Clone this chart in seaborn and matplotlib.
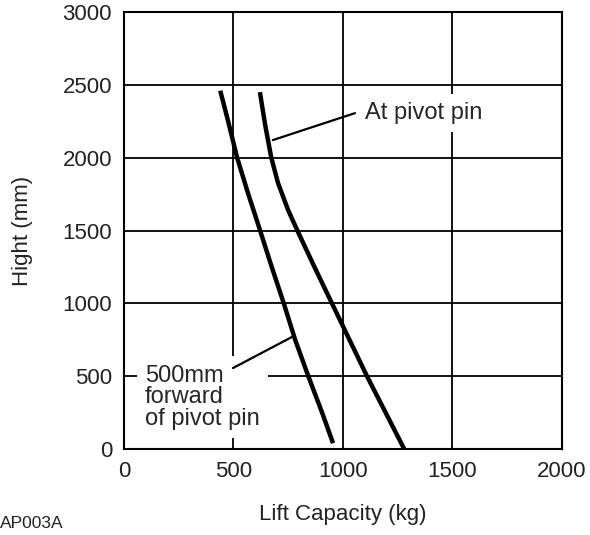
import matplotlib
matplotlib.use('Agg')
import matplotlib.pyplot as plt
import seaborn as sns

# Lift capacity curves
pivot_height = [0, 250, 500, 750, 1000, 1250, 1500, 1640, 1825, 2000, 2225, 2450]
pivot_load = [1280, 1195, 1110, 1030, 950, 870, 792, 750, 704, 673, 645, 621]

forward_height = [40, 250, 500, 750, 1000, 1250, 1500, 1750, 2000, 2250, 2460]
forward_load = [955, 905, 842, 782, 730, 675, 622, 568, 517, 476, 440]

x_ticks = [0, 500, 1000, 1500, 2000]
y_ticks = [0, 500, 1000, 1500, 2000, 2500, 3000]

sns.set_style('white')
plt.rcParams['font.family'] = ['Liberation Sans', 'DejaVu Sans']

fig = plt.figure(figsize=(5.9, 5.35), dpi=100)
ax = fig.add_axes([0.210, 0.1607, 0.7424, 0.8168])

sns.lineplot(x=pivot_load, y=pivot_height, sort=False, estimator=None,
             color='black', lw=3.2, solid_capstyle='butt', ax=ax)
sns.lineplot(x=forward_load, y=forward_height, sort=False, estimator=None,
             color='black', lw=3.2, solid_capstyle='butt', ax=ax)

ax.set_xlim(0, 2000)
ax.set_ylim(0, 3000)
ax.set_xticks(x_ticks)
ax.set_yticks(y_ticks)
ax.grid(True, color='black', lw=1.3)
ax.set_axisbelow(True)
for s in ax.spines.values():
    s.set_color('black')
    s.set_linewidth(1.5)
ax.tick_params(length=0, pad=8.5, labelsize=16, colors='#222222')

ax.set_xlabel('Lift Capacity (kg)', fontsize=16, color='#222222')
ax.set_ylabel('Hight (mm)', fontsize=16, color='#222222')
ax.xaxis.set_label_coords(0.5, -0.125)
ax.yaxis.set_label_coords(-0.208, 0.5)

# labels with white boxes that break the grid
ax.text(1100, 2306, 'At pivot pin', fontsize=17, va='center', ha='left', zorder=4,
        bbox=dict(boxstyle='square,pad=0.35', fc='white', ec='none'))
ax.plot([680, 1055], [2121, 2306], color='black', lw=1.6, zorder=5)

ax.text(96, 355, '500mm\nforward\nof pivot pin', fontsize=17, va='center', ha='left',
        linespacing=0.98, zorder=4,
        bbox=dict(boxstyle='square,pad=0.35', fc='white', ec='none'))
ax.plot([498, 767], [556, 769], color='black', lw=1.6, zorder=5)

fig.text(0.0, 0.022, 'AP003A', fontsize=12.5, color='#222222', ha='left', va='center')

plt.savefig('out.png', dpi=100)
